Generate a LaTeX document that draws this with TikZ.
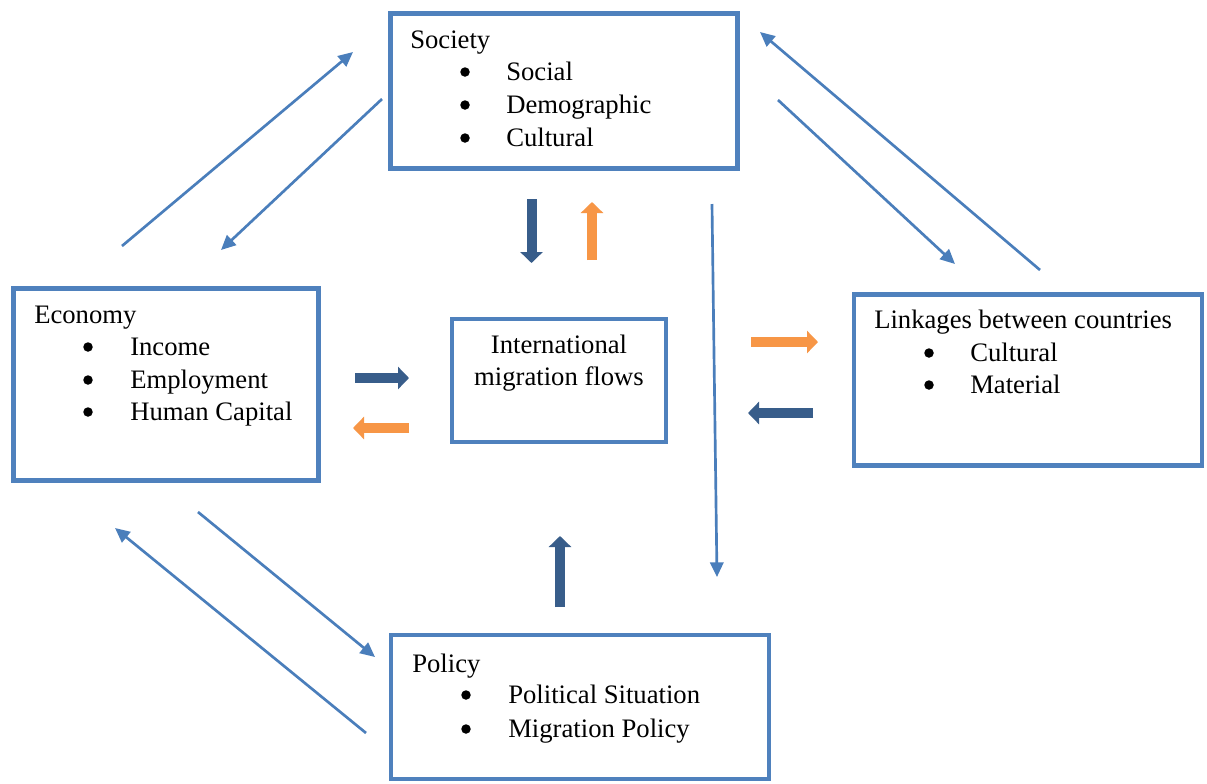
\documentclass[tikz,border=0pt]{standalone}
\usepackage{fontspec}
\setmainfont{Liberation Serif}
\usetikzlibrary{arrows.meta}
\newlength\upx \setlength\upx{0.75pt}
\definecolor{boxblue}{HTML}{4F81BD}
\definecolor{lineblue}{HTML}{4A7EBB}
\definecolor{darkblue}{HTML}{385D8A}
\definecolor{myorange}{HTML}{F79646}
\begin{document}
\begin{tikzpicture}[x=0.75pt,y=-0.75pt,
  box/.style={draw=boxblue, line width=3.4pt, inner sep=0pt, outer sep=0pt, rectangle},
  txt/.style={anchor=base west, inner sep=0pt, font=\fontsize{20}{24}\selectfont},
  ctxt/.style={anchor=base, inner sep=0pt, font=\fontsize{20}{24}\selectfont},
  bul/.style={circle, fill=black, inner sep=0pt, minimum size=9.5\upx},
  thinarrow/.style={draw=lineblue, line width=2pt, -{Triangle[length=11pt,width=10pt]}},
  blkarrow/.style={line width=7.5pt, -{Triangle[length=8.25pt,width=16.5pt]}}]
\fill[white] (0,0) rectangle (1207,783);
\useasboundingbox (0,0) rectangle (1207,783);
% boxes
\node[box, minimum width=347\upx, minimum height=155\upx] (soc) at (564,91) {};
\node[box, minimum width=305\upx, minimum height=192\upx] (eco) at (166,384.5) {};
\node[box, minimum width=214\upx, minimum height=123\upx] (intl) at (559,380.5) {};
\node[box, minimum width=348\upx, minimum height=171\upx] (link) at (1028,380) {};
\node[box, minimum width=378\upx, minimum height=144\upx] (pol) at (580,707) {};
% Society text
\node[txt] (socT) at (410,48) {Society};
\node[bul] (socB1) at (465,72) {};
\node[bul] (socB2) at (465,105) {};
\node[bul] (socB3) at (465,138) {};
\node[txt] (socI1) at (506,80) {Social};
\node[txt] (socI2) at (506,113) {Demographic};
\node[txt] (socI3) at (506,146) {Cultural};
% Economy text
\node[txt] (ecoT) at (34,323) {Economy};
\node[bul] (ecoB1) at (88,347) {};
\node[bul] (ecoB2) at (88,380) {};
\node[bul] (ecoB3) at (88,412) {};
\node[txt] (ecoI1) at (130,355) {Income};
\node[txt] (ecoI2) at (130,388) {Employment};
\node[txt] (ecoI3) at (130,420) {Human Capital};
% International
\node[ctxt] (intlT1) at (559,353) {International};
\node[ctxt] (intlT2) at (559,385) {migration flows};
% Linkages
\node[txt] (linkT) at (874,328) {Linkages between countries};
\node[bul] (linkB1) at (929,353) {};
\node[bul] (linkB2) at (929,385) {};
\node[txt] (linkI1) at (970,361) {Cultural};
\node[txt] (linkI2) at (970,393) {Material};
% Policy
\node[txt] (polT) at (412,672) {Policy};
\node[bul] (polB1) at (466,695) {};
\node[bul] (polB2) at (466,729) {};
\node[txt] (polI1) at (508,703) {Political Situation};
\node[txt] (polI2) at (508,737) {Migration Policy};
% thin arrow end points
\coordinate (t1s) at (122,246); \coordinate (t1e) at (353,52);
\coordinate (t2s) at (382,99);  \coordinate (t2e) at (221,250);
\coordinate (t3s) at (778,100); \coordinate (t3e) at (955,264);
\coordinate (t4s) at (1040,270); \coordinate (t4e) at (760,32);
\coordinate (t5s) at (712,204); \coordinate (t5e) at (717,577);
\coordinate (t6s) at (198,512); \coordinate (t6e) at (375,657);
\coordinate (t7s) at (366,733); \coordinate (t7e) at (115,528);
\draw[thinarrow] (t1s) -- (t1e);
\draw[thinarrow] (t2s) -- (t2e);
\draw[thinarrow] (t3s) -- (t3e);
\draw[thinarrow] (t4s) -- (t4e);
\draw[thinarrow] (t5s) -- (t5e);
\draw[thinarrow] (t6s) -- (t6e);
\draw[thinarrow] (t7s) -- (t7e);
% block arrow end points
\coordinate (b1s) at (531.5,199); \coordinate (b1e) at (531.5,263);
\coordinate (b2s) at (592,260);   \coordinate (b2e) at (592,202);
\coordinate (b3s) at (355,378);   \coordinate (b3e) at (409,378);
\coordinate (b4s) at (409,428);   \coordinate (b4e) at (353,428);
\coordinate (b5s) at (751,342);   \coordinate (b5e) at (818,342);
\coordinate (b6s) at (813,413);   \coordinate (b6e) at (748,413);
\coordinate (b7s) at (560,607);   \coordinate (b7e) at (560,536);
\draw[blkarrow, darkblue] (b1s) -- (b1e);
\draw[blkarrow, myorange] (b2s) -- (b2e);
\draw[blkarrow, darkblue] (b3s) -- (b3e);
\draw[blkarrow, myorange] (b4s) -- (b4e);
\draw[blkarrow, myorange] (b5s) -- (b5e);
\draw[blkarrow, darkblue] (b6s) -- (b6e);
\draw[blkarrow, darkblue] (b7s) -- (b7e);
\end{tikzpicture}
\end{document}
